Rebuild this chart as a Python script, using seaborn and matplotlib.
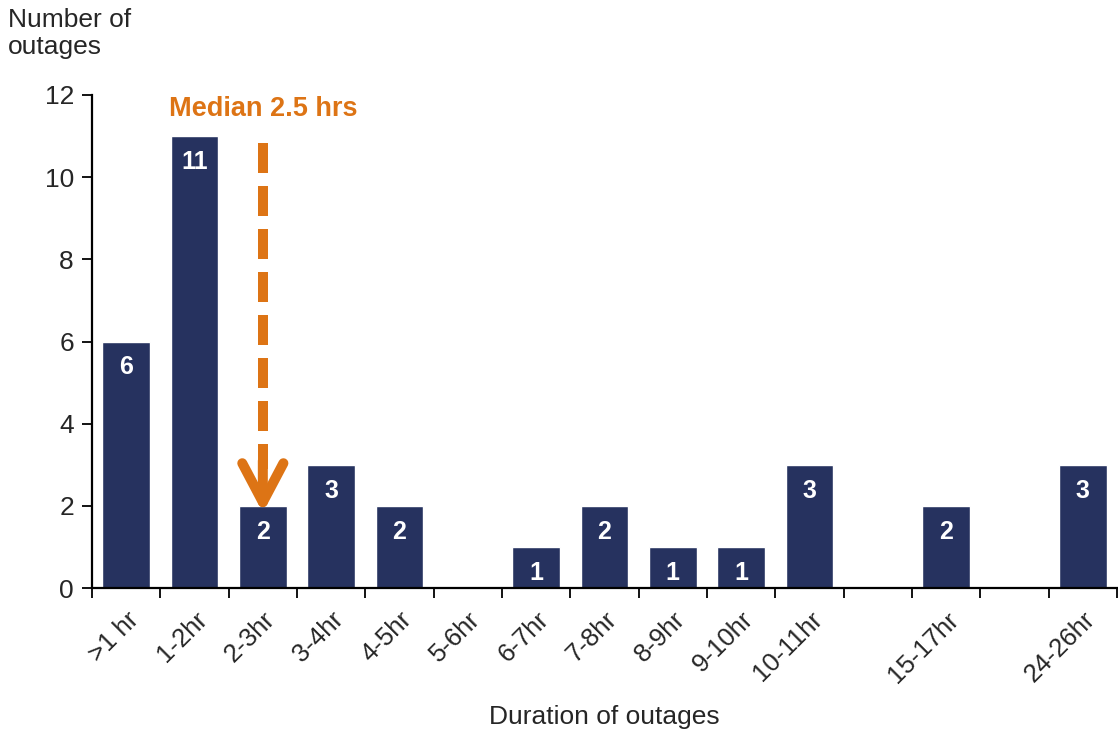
import matplotlib
matplotlib.use("Agg")
import matplotlib.pyplot as plt
import seaborn as sns
import pandas as pd
import numpy as np

# Outage counts by duration band (blank bands keep the spacing of the scale)
durations = [">1 hr", "1-2hr", "2-3hr", "3-4hr", "4-5hr", "5-6hr", "6-7hr",
             "7-8hr", "8-9hr", "9-10hr", "10-11hr", "", "15-17hr", "", "24-26hr"]
outages = [6, 11, 2, 3, 2, 0, 1, 2, 1, 1, 3, 0, 2, 0, 3]
median_label = "Median 2.5 hrs"
median_band = "2-3hr"

bar_color = "#26325F"
accent = "#DD7415"

sns.set_theme(style="white")
plt.rcParams["font.family"] = ["Liberation Sans", "DejaVu Sans"]

df = pd.DataFrame({"slot": [f"s{i}" for i in range(len(durations))],
                   "label": durations, "count": outages})

fig = plt.figure(figsize=(11.18, 7.33), dpi=100)
ax = fig.add_axes([92 / 1118, 145 / 733, 1025 / 1118, 493 / 733])

sns.barplot(data=df, x="slot", y="count", color=bar_color, width=0.7,
            saturation=1, ax=ax)

# Value labels inside the top of each bar
for i, v in enumerate(outages):
    if v > 0:
        ax.text(i, v - 0.63, str(v), ha="center", va="center", color="white",
                fontsize=18, fontweight="bold")

n = len(durations)
ax.set_xlim(-0.5, n - 0.5)
ax.set_ylim(0, 12)
ax.set_yticks(range(0, 13, 2))

# Tick marks at the band boundaries, labels at band centres
ax.set_xticks(np.arange(-0.5, n, 1.0))
ax.set_xticklabels([])
ax.set_xticks(range(n), minor=True)
ax.set_xticklabels(durations, minor=True, rotation=45, ha="right",
                   rotation_mode="anchor", fontsize=18.5)
ax.tick_params(axis="x", which="major", direction="out", length=7, width=1.3,
               color="black", bottom=True)
ax.tick_params(axis="x", which="minor", length=0, pad=14, bottom=True)
ax.tick_params(axis="y", direction="out", length=7, width=1.3, color="black",
               left=True, labelsize=19, pad=6)

for side in ["top", "right"]:
    ax.spines[side].set_visible(False)
for side in ["left", "bottom"]:
    ax.spines[side].set_color("black")
    ax.spines[side].set_linewidth(1.6)

ax.set_xlabel("Duration of outages", fontsize=19, labelpad=13)
ax.set_ylabel("")
fig.text(8 / 1118, 1 - 8 / 733, "Number of\noutages", fontsize=19,
         ha="left", va="top", linespacing=1.15)

# Median marker: dashed shaft plus a chevron head pointing at the 2-3hr bar
xm = durations.index(median_band)
ax.plot([xm, xm], [10.83, 2.9], color=accent, lw=7.2, ls=(0, (3.0, 1.3)),
        solid_capstyle="butt", dash_capstyle="butt")
ax.annotate("", xy=(xm, outages[xm] - 0.17), xytext=(xm, 3.1),
            arrowprops=dict(arrowstyle="->,head_length=1.4,head_width=0.74",
                            color=accent, lw=7.2, capstyle="round",
                            joinstyle="round", shrinkA=0, shrinkB=0,
                            mutation_scale=20))
ax.text(xm, 11.66, median_label, color=accent, fontsize=19.5,
        fontweight="bold", ha="center", va="center")

fig.savefig("out.png", dpi=100)
